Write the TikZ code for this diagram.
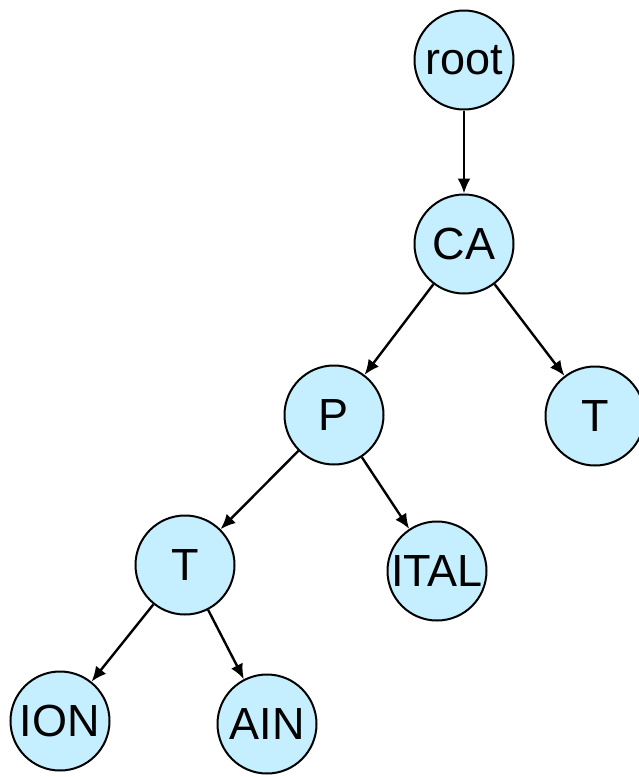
\documentclass[tikz,border=0pt]{standalone}
\usepackage{fontspec}
\setmainfont{Liberation Sans}
\usetikzlibrary{arrows.meta}
\definecolor{nodefill}{RGB}{197,238,254}
\begin{document}
\begin{tikzpicture}[x=1pt,y=-1pt,
  tnode/.style={circle,draw=black,line width=2pt,fill=nodefill,minimum size=99pt,inner sep=0pt,font=\fontsize{45}{48}\selectfont},
  edge/.style={line width=2.4pt,-{Latex[length=15pt,width=13pt]}}]
\useasboundingbox (0,0) rectangle (639,777);
\node[tnode] (root) at (464,60) {\makebox[0pt][c]{root}};
\node[tnode] (ca) at (464,244) {\makebox[0pt][c]{CA}};
\node[tnode] (p) at (334,415) {\makebox[0pt][c]{P}};
\node[tnode] (t1) at (595,416) {\makebox[0pt][c]{T}};
\node[tnode] (t2) at (185,565) {\makebox[0pt][c]{T}};
\node[tnode] (ital) at (437,571) {\makebox[0pt][c]{ITAL}};
\node[tnode] (ion) at (60,721) {\makebox[0pt][c]{ION}};
\node[tnode] (ain) at (267,724) {\makebox[0pt][c]{AIN}};
\draw[edge] (root) -- (ca);
\draw[edge] (ca) -- (p);
\draw[edge] (ca) -- (t1);
\draw[edge] (p) -- (t2);
\draw[edge] (p) -- (ital);
\draw[edge] (t2) -- (ion);
\draw[edge] (t2) -- (ain);
\end{tikzpicture}
\end{document}
